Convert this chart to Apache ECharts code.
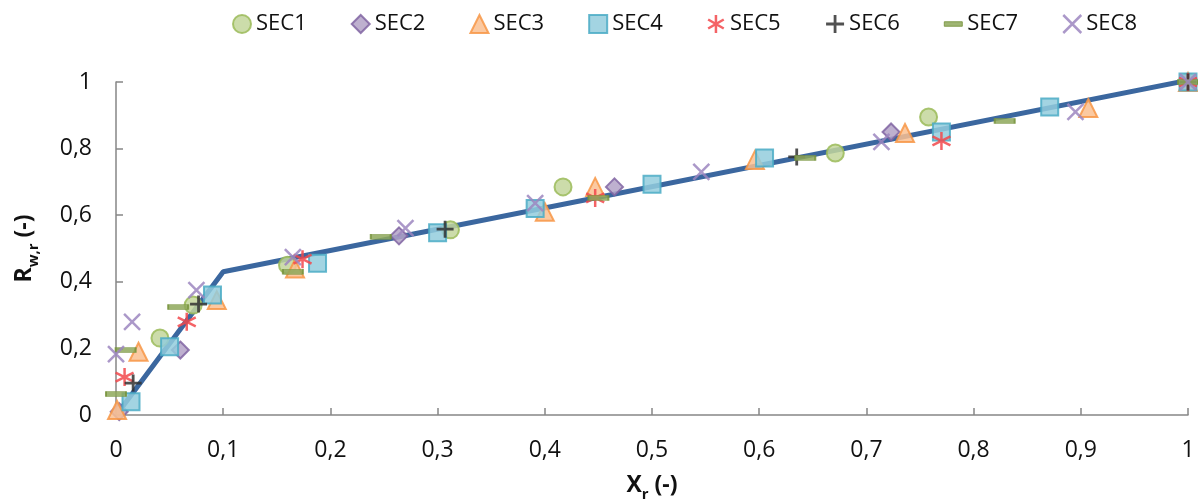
<!DOCTYPE html>
<html>
<head>
<meta charset="utf-8">
<script src="https://cdn.jsdelivr.net/npm/echarts@6/dist/echarts.min.js"></script>
<style>
html,body{margin:0;padding:0;background:#fff;}
#chart{width:1198px;height:500px;}
</style>
</head>
<body>
<div id="chart"></div>
<script>
// ---- data ----
const SERIES_NAMES = ['SEC1','SEC2','SEC3','SEC4','SEC5','SEC6','SEC7','SEC8'];
const SEC1 = [[0.041,0.231],[0.072,0.33],[0.160,0.45],[0.312,0.556],[0.417,0.685],[0.671,0.787],[0.758,0.895],[1,1]];
const SEC2 = [[0.003,0.01],[0.060,0.195],[0.264,0.538],[0.465,0.685],[0.723,0.85],[1,1]];
const SEC3 = [[0.001,0.015],[0.021,0.19],[0.094,0.345],[0.167,0.44],[0.40,0.61],[0.447,0.685],[0.596,0.766],[0.736,0.847],[0.907,0.922],[1,1]];
const SEC4 = [[0.014,0.04],[0.05,0.205],[0.090,0.36],[0.188,0.456],[0.30,0.547],[0.391,0.62],[0.5,0.693],[0.605,0.772],[0.77,0.85],[0.871,0.925],[1,1]];
const SEC5 = [[0.008,0.114],[0.066,0.28],[0.174,0.468],[0.447,0.652],[0.77,0.823],[1,1]];
const SEC6 = [[0.016,0.096],[0.077,0.333],[0.307,0.558],[0.635,0.775],[1,1]];
const SEC7 = [[0.0,0.063],[0.009,0.195],[0.058,0.324],[0.165,0.43],[0.247,0.535],[0.45,0.652],[0.643,0.772],[0.829,0.883],[1,1]];
const SEC8 = [[0.0,0.183],[0.015,0.28],[0.075,0.375],[0.165,0.474],[0.27,0.561],[0.391,0.636],[0.546,0.73],[0.714,0.82],[0.895,0.91],[1,1]];
const LINE_X = [0.005, 0.1, 1];
const LINE_Y = [0.02, 0.43, 1.005];
const X_TICKS = [0,0.1,0.2,0.3,0.4,0.5,0.6,0.7,0.8,0.9,1];
const Y_TICKS = [0,0.2,0.4,0.6,0.8,1];

// ---- styles ----
const FONT = '"Open Sans", "Liberation Sans", sans-serif';
const P_AST = 'path://M5,0L5,10M0.67,2.5L9.33,7.5M0.67,7.5L9.33,2.5';
const P_PLUS = 'path://M5,0L5,10M0,5L10,5';
const P_X = 'path://M0,0L10,10M0,10L10,0';
const P_DASH = 'path://M0,0L20,0L20,5L0,5Z';
const STYLES = [
  {symbol:'circle', size:17, color:'#c3d69b', border:'#9bbb59', bw:2},
  {symbol:'diamond', size:17, color:'#b3a2c7', border:'#8064a2', bw:2},
  {symbol:'triangle', size:18, color:'#fac090', border:'#f79646', bw:2},
  {symbol:'rect', size:17, color:'#93cddd', border:'#4bacc6', bw:2},
  {symbol:P_AST, size:18, color:'#f2484b', border:'#f2484b', bw:2.5},
  {symbol:P_PLUS, size:17, color:'#333333', border:'#333333', bw:2.8},
  {symbol:P_DASH, size:[20,5], color:'#8ea85a', border:'#77933c', bw:1},
  {symbol:P_X, size:16, color:'#9c86c0', border:'#9c86c0', bw:2.5}
];
const DATA = [SEC1,SEC2,SEC3,SEC4,SEC5,SEC6,SEC7,SEC8];

const fmt = v => String(+(+v).toFixed(1)).replace('.', ',');

const scatterSeries = SERIES_NAMES.map((n,i) => ({
  name: n, type: 'scatter', data: DATA[i],
  symbol: STYLES[i].symbol, symbolSize: STYLES[i].size,
  itemStyle: {color: STYLES[i].color, borderColor: STYLES[i].border, borderWidth: STYLES[i].bw, opacity: 0.85},
  z: 3
}));

const lineSeries = {
  name: 'fit', type: 'line', data: LINE_X.map((x,i)=>[x, LINE_Y[i]]),
  showSymbol: false, symbol: 'none',
  lineStyle: {color:'#3b679f', width:5}, z: 2, silent: true
};

const legendData = SERIES_NAMES.map((n,i) => ({
  name: n, icon: STYLES[i].symbol === 'rect' ? 'rect' : STYLES[i].symbol,
  itemStyle: {color: STYLES[i].color, borderColor: STYLES[i].border, borderWidth: STYLES[i].bw}
}));

const nameRich = {
  b: {fontFamily: FONT, fontSize: 23, fontWeight: 'bold', color:'#111', lineHeight: 34},
  s: {fontFamily: FONT, fontSize: 15, fontWeight: 'bold', color:'#111', lineHeight: 16, verticalAlign: 'bottom'}
};

const chart = echarts.init(document.getElementById('chart'), null, {renderer:'canvas'});
chart.setOption({
  animation: false,
  backgroundColor: '#fff',
  grid: {left:116, right:10, top:82, bottom:85, containLabel:false, outerBoundsMode:'none'},
  legend: {
    data: legendData, top: 8, left: 227, itemGap: 44, itemWidth: 18, itemHeight: 18,
    textStyle: {fontFamily: FONT, fontSize: 22, color: '#111'}
  },
  xAxis: {
    type: 'value', min: 0, max: 1, interval: 0.1,
    name: '{b|X}{s|r}{b| (-)}', nameLocation: 'middle', nameGap: 53,
    nameTextStyle: {rich: nameRich},
    axisLine: {lineStyle: {color:'#868686', width:1.5}},
    axisTick: {inside: true, length: 7, lineStyle: {color:'#868686', width:1.5}},
    axisLabel: {fontFamily: FONT, fontSize: 23, color:'#111', margin: 24, formatter: fmt,
      customValues: X_TICKS},
    splitLine: {show: false}
  },
  yAxis: {
    type: 'value', min: 0, max: 1, interval: 0.2,
    name: '{b|R}{s|w,r}{b| (-)}', nameLocation: 'middle', nameGap: 75, nameRotate: 90,
    nameTextStyle: {rich: nameRich},
    axisLine: {show: true, lineStyle: {color:'#868686', width:1.5}},
    axisTick: {show: true, inside: true, length: 7, lineStyle: {color:'#868686', width:1.5}},
    axisLabel: {fontFamily: FONT, fontSize: 23, color:'#111', margin: 24, formatter: fmt,
      customValues: Y_TICKS},
    splitLine: {show: false}
  },
  series: [lineSeries, ...scatterSeries]
});
</script>
</body>
</html>
